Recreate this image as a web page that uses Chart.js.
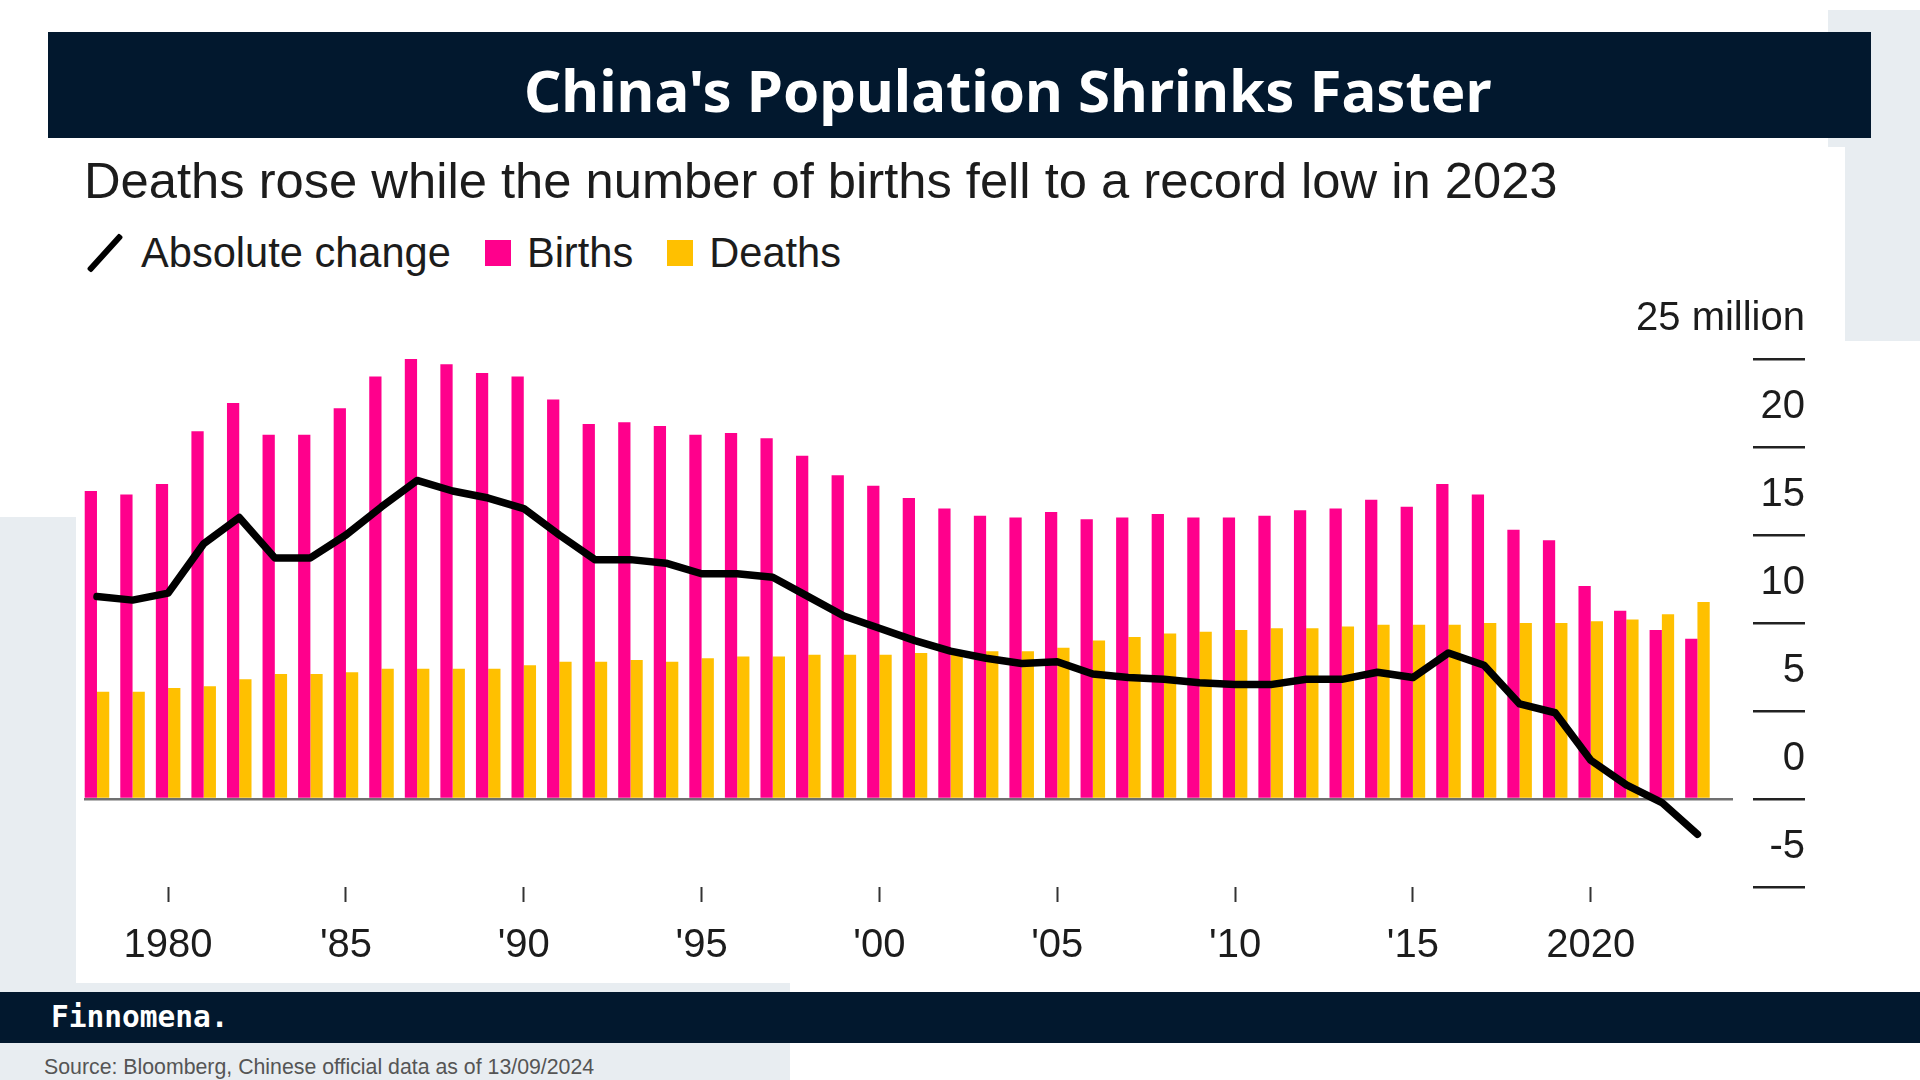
<!DOCTYPE html>
<html>
<head>
<meta charset="utf-8">
<title>China's Population Shrinks Faster</title>
<script src="https://cdn.jsdelivr.net/npm/chart.js@4.4.1/dist/chart.umd.min.js"></script>
<style>
  html, body { margin: 0; padding: 0; }
  body {
    width: 1920px; height: 1080px; position: relative; overflow: hidden;
    background: #fff; color: #1c1c1c;
    font-family: "Liberation Sans", Arial, Helvetica, sans-serif;
  }
  .panel { position: absolute; background: #e8edf1; }
  .navy { position: absolute; background: #02182e; }
  #title {
    position: absolute; left: 524px; top: 50px; margin: 0;
    font-family: "Noto Sans", "Open Sans", sans-serif; font-weight: 700;
    font-size: 58.2px; line-height: 80px; color: #fff; white-space: nowrap;
  }
  #subtitle {
    position: absolute; left: 84px; top: 150px; margin: 0;
    font-size: 50.7px; line-height: 62px; font-weight: 400; white-space: nowrap;
  }
  #legend {
    position: absolute; left: 86px; top: 228px; height: 50px;
    display: flex; align-items: center; font-size: 41.6px; white-space: nowrap;
  }
  #legend .item { display: flex; align-items: center; margin-right: 34px; }
  #legend .sw { width: 26px; height: 26px; margin-right: 16px; }
  #legend .slash {
    width: 6px; height: 48px; background: #000; margin: 0 33px 0 16px;
    transform: rotate(42deg); border-radius: 2px;
  }
  #wrap { position: absolute; left: 0; top: 280px; width: 1920px; height: 720px; }
  #brand {
    position: absolute; left: 51px; top: 996px; margin: 0;
    font-family: "DejaVu Sans Mono", monospace; font-weight: 700;
    font-size: 29.5px; line-height: 42px; color: #fff;
  }
  #source {
    position: absolute; left: 44px; top: 1055px; margin: 0;
    font-size: 21.3px; line-height: 24px; color: #555;
  }
</style>
</head>
<body>
  <div class="panel" style="left:1828px; top:10px; width:92px; height:137px;"></div>
  <div class="panel" style="left:1845px; top:147px; width:75px; height:194px;"></div>
  <div class="panel" style="left:0; top:517px; width:76px; height:475px;"></div>
  <div class="panel" style="left:0; top:983px; width:790px; height:9px;"></div>
  <div class="panel" style="left:0; top:1043px; width:790px; height:37px;"></div>

  <div class="navy" style="left:48px; top:32px; width:1823px; height:106px;"></div>
  <h1 id="title">China's Population Shrinks Faster</h1>

  <p id="subtitle">Deaths rose while the number of births fell to a record low in 2023</p>
  <div id="legend"></div>

  <div id="wrap"><canvas id="chart"></canvas></div>

  <div class="navy" style="left:0; top:992px; width:1920px; height:51px;"></div>
  <p id="brand">Finnomena.</p>
  <p id="source">Source: Bloomberg, Chinese official data as of 13/09/2024</p>

<script>
  const years = [
    1978, 1979, 1980, 1981, 1982, 1983, 1984, 1985, 1986, 1987,
    1988, 1989, 1990, 1991, 1992, 1993, 1994, 1995, 1996, 1997,
    1998, 1999, 2000, 2001, 2002, 2003, 2004, 2005, 2006, 2007,
    2008, 2009, 2010, 2011, 2012, 2013, 2014, 2015, 2016, 2017,
    2018, 2019, 2020, 2021, 2022, 2023,
  ];
  // millions
  const births = [
    17.5, 17.3, 17.9, 20.9, 22.5, 20.7, 20.7, 22.2, 24.0, 25.4,
    24.7, 24.2, 24.0, 22.7, 21.3, 21.4, 21.2, 20.7, 20.8, 20.5,
    19.5, 18.4, 17.8, 17.1, 16.5, 16.1, 16.0, 16.3, 15.9, 16.0,
    16.2, 16.0, 16.0, 16.1, 16.4, 16.5, 17.0, 16.6, 17.9, 17.3,
    15.3, 14.7, 12.1, 10.7, 9.6, 9.1,
  ];
  const deaths = [
    6.1, 6.1, 6.3, 6.4, 6.8, 7.1, 7.1, 7.2, 7.4, 7.4,
    7.4, 7.4, 7.6, 7.8, 7.8, 7.9, 7.8, 8.0, 8.1, 8.1,
    8.2, 8.2, 8.2, 8.3, 8.3, 8.4, 8.4, 8.6, 9.0, 9.2,
    9.4, 9.5, 9.6, 9.7, 9.7, 9.8, 9.9, 9.9, 9.9, 10.0,
    10.0, 10.0, 10.1, 10.2, 10.5, 11.2,
  ];
  const absChange = [
    11.5, 11.3, 11.7, 14.5, 16.0, 13.7, 13.7, 15.0, 16.6, 18.1,
    17.5, 17.1, 16.5, 15.0, 13.6, 13.6, 13.4, 12.8, 12.8, 12.6,
    11.5, 10.4, 9.7, 9.0, 8.4, 8.0, 7.7, 7.8, 7.1, 6.9,
    6.8, 6.6, 6.5, 6.5, 6.8, 6.8, 7.2, 6.9, 8.3, 7.6,
    5.4, 4.9, 2.2, 0.8, -0.2, -2.0,
  ];
  const xTickYears = [1980, 1985, 1990, 1995, 2000, 2005, 2010, 2015, 2020];
  const xTickLabels = ["1980", "'85", "'90", "'95", "'00", "'05", "'10", "'15", "2020"];
  const yTickValues = [-5, 0, 5, 10, 15, 20, 25];
  const yTickLabels = ["-5", "0", "5", "10", "15", "20", "25 million"];

  const PINK = "#ff008c";
  const YELLOW = "#ffc000";
  const INK = "#1c1c1c";

  const toPoints = (vals) => vals.map((v, i) => ({ x: years[i], y: v }));

  // legend
  const legendItems = [
    { name: "Absolute change", kind: "line" },
    { name: "Births", color: PINK },
    { name: "Deaths", color: YELLOW },
  ];
  const $legend = document.getElementById("legend");
  legendItems.forEach((it) => {
    const item = document.createElement("span");
    item.className = "item";
    const mark = document.createElement("span");
    if (it.kind === "line") {
      mark.className = "slash";
    } else {
      mark.className = "sw";
      mark.style.background = it.color;
    }
    item.appendChild(mark);
    item.appendChild(document.createTextNode(it.name));
    $legend.appendChild(item);
  });

  new Chart(document.getElementById("chart"), {
    type: "bar",
    data: {
      datasets: [
        {
          type: "line",
          label: "Absolute change",
          data: toPoints(absChange),
          borderColor: "#000",
          borderWidth: 7.5,
          pointRadius: 0,
          tension: 0,
          borderJoinStyle: "round",
          borderCapStyle: "round",
          order: 0,
        },
        {
          label: "Births",
          data: toPoints(births),
          backgroundColor: PINK,
          borderWidth: 0,
          barPercentage: 1,
          categoryPercentage: 0.69,
          order: 1,
        },
        {
          label: "Deaths",
          data: toPoints(deaths),
          backgroundColor: YELLOW,
          borderWidth: 0,
          barPercentage: 1,
          categoryPercentage: 0.69,
          order: 2,
        },
      ],
    },
    options: {
      responsive: true,
      maintainAspectRatio: false,
      animation: false,
      events: [],
      layout: { padding: { left: 84, right: 115, top: 79, bottom: 0 } },
      plugins: {
        legend: { display: false },
        tooltip: { enabled: false },
      },
      scales: {
        x: {
          type: "linear",
          position: "bottom",
          min: 1977.635,
          max: 2024,
          offset: false,
          afterBuildTicks: (scale) => {
            scale.ticks = xTickYears.map((v) => ({ value: v }));
          },
          afterFit: (scale) => {
            scale.height = 113;
            scale.paddingLeft = 0;
            scale.paddingRight = 0;
          },
          border: { display: false },
          grid: {
            offset: false,
            drawOnChartArea: false,
            drawTicks: true,
            tickLength: 15,
            tickColor: "#333",
            tickWidth: 2,
          },
          ticks: {
            padding: 20,
            color: INK,
            maxRotation: 0,
            font: { family: "'Liberation Sans', Arial, sans-serif", size: 40 },
            callback: (value) => {
              const i = xTickYears.indexOf(value);
              return i >= 0 ? xTickLabels[i] : null;
            },
          },
        },
        y: {
          position: "right",
          min: -5,
          max: 25,
          afterBuildTicks: (scale) => {
            scale.ticks = yTickValues.map((v) => ({ value: v }));
          },
          afterFit: (scale) => {
            scale.width = 72;
            scale.paddingTop = 0;
            scale.paddingBottom = 0;
          },
          border: { display: false },
          grid: {
            drawOnChartArea: true,
            drawTicks: true,
            color: (ctx) => (ctx.tick && ctx.tick.value === 0 ? "#707070" : "rgba(0,0,0,0)"),
            lineWidth: 2.5,
            tickLength: 72,
            tickColor: "#222",
            tickWidth: 2.5,
            tickBorderDash: [52, 20],
            tickBorderDashOffset: 52,
          },
          ticks: {
            mirror: true,
            padding: 72,
            labelOffset: -40,
            color: INK,
            font: { family: "'Liberation Sans', Arial, sans-serif", size: 40 },
            callback: (value) => {
              const i = yTickValues.indexOf(value);
              return i >= 0 ? yTickLabels[i] : null;
            },
          },
        },
      },
    },
  });
</script>
</body>
</html>
